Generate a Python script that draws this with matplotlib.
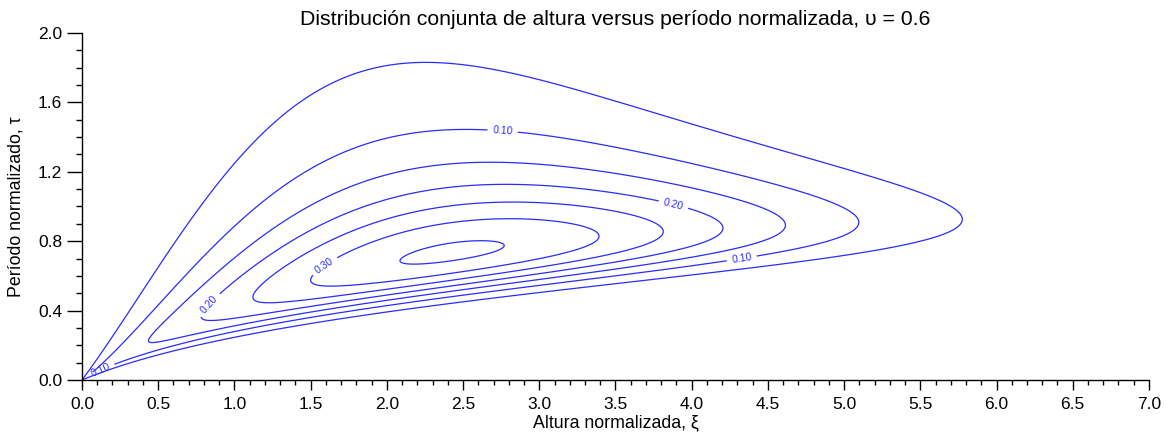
import numpy as np
import matplotlib
matplotlib.use("Agg")
import matplotlib.pyplot as plt
from matplotlib.ticker import MultipleLocator

# --- data / parameters ---
nu = 0.6                                   # spectral width parameter (title)
levels = [0.05, 0.10, 0.15, 0.20, 0.25, 0.30, 0.35]
labeled_levels = [0.10, 0.20, 0.30]
label_positions = [(2.76, 1.44), (4.33, 0.69), (0.12, 0.06),
                   (3.88, 1.01), (0.84, 0.43), (1.59, 0.66)]
x_ticks = [0.0, 0.5, 1.0, 1.5, 2.0, 2.5, 3.0, 3.5, 4.0, 4.5, 5.0, 5.5, 6.0, 6.5, 7.0]
y_ticks = [0.0, 0.4, 0.8, 1.2, 1.6, 2.0]

plt.rcParams['font.family'] = ['Liberation Sans', 'DejaVu Sans']

# Longuet-Higgins (1983) joint density of normalized height and period
xi = np.linspace(0.0005, 7.0, 900)
tau = np.linspace(0.0005, 2.0, 700)
X, T = np.meshgrid(xi, tau)
L = 2.0 / (1.0 + (1.0 + nu**2) ** -0.5)
R = X / (2.0 * np.sqrt(2.0))
P = (1.0 / (2.0 * np.sqrt(2.0))) * (2.0 * L / (np.sqrt(np.pi) * nu)) * (R / T) ** 2 * \
    np.exp(-R**2 * (1.0 + (1.0 - 1.0 / T) ** 2 / nu**2))

fig = plt.figure(figsize=(11.73, 4.40), dpi=100)
ax = fig.add_axes([0.0699, 0.1364, 0.9096, 0.7886])

line_color = '#2b2bff'
other_levels = [lv for lv in levels if lv not in labeled_levels]
ax.contour(X, T, P, levels=other_levels, colors=line_color, linewidths=0.9)
cs = ax.contour(X, T, P, levels=labeled_levels, colors=line_color, linewidths=0.9)
ax.clabel(cs, inline=True, fmt='%.2f', fontsize=7.5, manual=label_positions)

ax.set_xlim(0, 7)
ax.set_ylim(0, 2)
ax.set_xticks(x_ticks)
ax.set_yticks(y_ticks)
ax.set_xticklabels([f"{v:.1f}" for v in x_ticks])
ax.set_yticklabels([f"{v:.1f}" for v in y_ticks])
ax.xaxis.set_minor_locator(MultipleLocator(0.1))
ax.yaxis.set_minor_locator(MultipleLocator(0.1))
ax.tick_params(axis='x', which='major', direction='out', length=7.2, width=1,
               labelsize=12.5, pad=5, color='black')
ax.tick_params(axis='x', which='minor', direction='out', length=3.6, width=1, color='black')
ax.tick_params(axis='y', which='major', direction='out', length=10.8, width=1,
               labelsize=12.5, pad=3.5, color='black')
ax.tick_params(axis='y', which='minor', direction='out', length=4.5, width=1, color='black')
for s in ['top', 'right']:
    ax.spines[s].set_visible(False)
for s in ['left', 'bottom']:
    ax.spines[s].set_linewidth(1)

ax.set_xlabel('Altura normalizada, ξ', fontsize=12.8)
ax.set_ylabel('Período normalizado, τ', fontsize=12.8)
ax.xaxis.set_label_coords(0.5, -0.10)
ax.yaxis.set_label_coords(-0.054, 0.5)
ax.set_title('Distribución conjunta de altura versus período normalizada, υ = 0.6',
             fontsize=15.3, pad=6)

fig.savefig('out.png', dpi=100)
